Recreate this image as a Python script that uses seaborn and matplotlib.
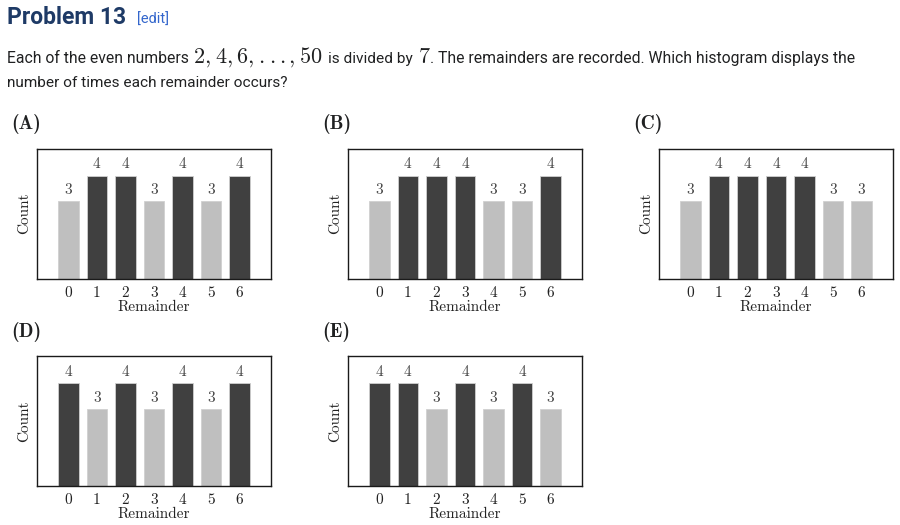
import matplotlib
matplotlib.use("Agg")
import matplotlib.pyplot as plt
import seaborn as sns
import pandas as pd

# ---- data ----
remainders = [0, 1, 2, 3, 4, 5, 6]
counts_A = [3, 4, 4, 3, 4, 3, 4]
counts_B = [3, 4, 4, 4, 3, 3, 4]
counts_C = [3, 4, 4, 4, 4, 3, 3]
counts_D = [4, 3, 4, 3, 4, 3, 4]
counts_E = [4, 4, 3, 4, 3, 4, 3]
panel_labels = ["(A)", "(B)", "(C)", "(D)", "(E)"]

sns.set_style("white")
plt.rcParams["font.family"] = ["Roboto", "DejaVu Sans"]
plt.rcParams["mathtext.fontset"] = "cm"

W, H = 900, 525
fig = plt.figure(figsize=(W / 100, H / 100), dpi=100)
renderer = fig.canvas.get_renderer()

DARK = "#404040"
LIGHT = "#bfbfbf"
CM = "cmr10"
CMB = "cmb10"
FS = 11


def put(s, x, ybase, **kw):
    return fig.text(x / W, 1 - ybase / H, s, ha="left", va="baseline", **kw)


# ---- header text ----
title_kw = dict(fontsize=16.5, fontweight="bold", color="#1e3a66", family=["Roboto", "DejaVu Sans"])
edit_kw = dict(fontsize=10.5, color="#3366cc", family=["Roboto", "DejaVu Sans"])
put("Problem 13", 7, 24, **title_kw)
put("[edit]", 137, 24, **edit_kw)

body_kw = dict(fontsize=11.3, color="#202122", family=["Roboto", "DejaVu Sans"])
math_kw = dict(fontsize=16, color="#202122")
put("Each of the even numbers", 7, 63, **body_kw)

# math sequence "2, 4, 6, ..., 50" typeset token by token with thin spaces
thin = 4.0
x = 193
for tok, gap in [("2,", thin), ("4,", thin), ("6,", thin), (".", thin), (".", thin),
                 (".", 3.0), (",", thin), ("50", 0)]:
    t = put("$" + tok + "$", x, 63, **math_kw)
    x += t.get_window_extent(renderer).width + gap

put("is divided by", 328, 63, **dict(body_kw, fontsize=11.1))
put(r"$7$", 418, 63, **math_kw)
put(". The remainders are recorded. Which histogram displays the", 430, 63, **body_kw)
put("number of times each remainder occurs?", 7, 87, **dict(body_kw, fontsize=11.1))

# ---- panels ----
panels = [
    (counts_A, 37, 148.5),
    (counts_B, 348, 148.5),
    (counts_C, 659, 148.5),
    (counts_D, 37, 356),
    (counts_E, 348, 356),
]
box_w, box_h = 234, 130

for (counts, left, top), lab in zip(panels, panel_labels):
    ax = fig.add_axes([left / W, 1 - (top + box_h) / H, box_w / W, box_h / H])
    df = pd.DataFrame({"Remainder": remainders, "Count": counts})
    sns.barplot(data=df, x="Remainder", y="Count", hue="Count",
                palette={3: LIGHT, 4: DARK}, dodge=False, legend=False,
                width=0.73, edgecolor="#d0d0d0", linewidth=0.6, ax=ax)
    ax.set_xlim(-1.1, 7.1)
    ax.set_ylim(0, 5.05)
    ax.set_yticks([])
    ax.tick_params(axis="x", length=0, pad=5.5, labelsize=FS)
    for t in ax.get_xticklabels():
        t.set_fontfamily(CM)
        t.set_color("#222222")
    ax.set_xlabel("Remainder", fontfamily=CM, fontsize=FS, labelpad=0.3, color="#222222")
    ax.set_ylabel("Count", fontfamily=CM, fontsize=FS, labelpad=4, color="#222222")
    for c in ax.containers:
        ax.bar_label(c, padding=3, fontfamily=CM, fontsize=FS, color="#444444")
    for sp in ax.spines.values():
        sp.set_visible(True)
        sp.set_color("#1a1a1a")
        sp.set_linewidth(1.0)
    fig.text((left - 26) / W, 1 - (top - 24) / H, lab, family=CMB, fontsize=14,
             ha="left", va="center", color="#202122")

fig.savefig("out.png", dpi=100)
